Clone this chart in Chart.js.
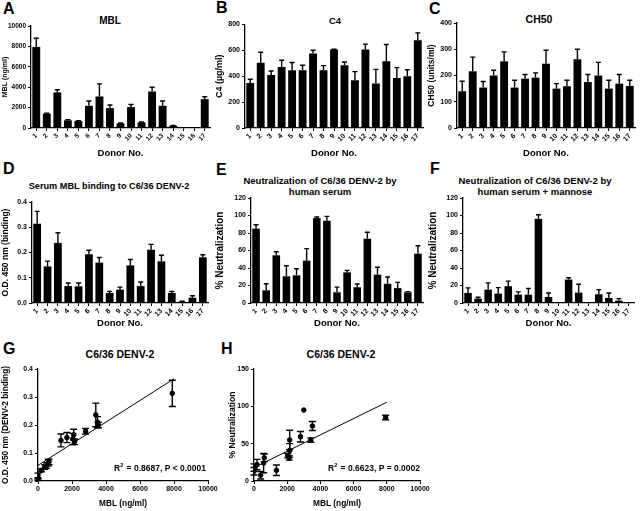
<!DOCTYPE html>
<html>
<head>
<meta charset="utf-8">
<script src="https://cdn.jsdelivr.net/npm/chart.js@4.4.1/dist/chart.umd.min.js"></script>
<style>
  body { margin: 0; background: #fff; width: 640px; height: 511px; position: relative; overflow: hidden;
         font-family: "Liberation Sans", Arial, sans-serif; color: #000; }
  canvas { position: absolute; }
  .letter { position: absolute; font-weight: bold; font-size: 16px; line-height: 16px; }
  .title { position: absolute; width: 240px; text-align: center; font-weight: bold; white-space: nowrap; }
</style>
</head>
<body>
<div class="letter" style="left:3px;top:1px">A</div>
<div class="letter" style="left:216px;top:0px">B</div>
<div class="letter" style="left:429px;top:1px">C</div>
<div class="letter" style="left:3px;top:161px">D</div>
<div class="letter" style="left:216px;top:162px">E</div>
<div class="letter" style="left:430px;top:161px">F</div>
<div class="letter" style="left:3px;top:341px">G</div>
<div class="letter" style="left:221px;top:341px">H</div>

<div class="title" style="left:-10px;top:16px;font-size:10px;line-height:10px">MBL</div>
<div class="title" style="left:215px;top:15.5px;font-size:9.5px;line-height:10px">C4</div>
<div class="title" style="left:419px;top:13.6px;font-size:10.5px;line-height:10.5px">CH50</div>
<div class="title" style="left:-11px;top:181.5px;font-size:9.2px;line-height:9.2px">Serum MBL binding to C6/36 DENV-2</div>
<div class="title" style="left:200px;top:175.3px;font-size:9.5px;line-height:11px">Neutralization of C6/36 DENV-2 by<br>human serum</div>
<div class="title" style="left:415px;top:175.3px;font-size:9.5px;line-height:11px">Neutralization of C6/36 DENV-2 by<br>human serum + mannose</div>
<div class="title" style="left:0px;top:348.6px;font-size:10.5px;line-height:10.5px">C6/36 DENV-2</div>
<div class="title" style="left:221px;top:349px;font-size:10.5px;line-height:10.5px">C6/36 DENV-2</div>

<script>
// ---- data ----
const donors = ['1','2','3','4','5','6','7','8','9','10','11','12','13','14','15','16','17'];

const mblMean  = [7950, 1400, 3490, 750, 680, 2180, 3090, 1950, 455, 2050, 550, 3580, 2180, 230, 0, 0, 2830];
const mblSd    = [850, 40, 260, 60, 40, 460, 1240, 300, 40, 260, 40, 420, 460, 20, 0, 0, 230];

const c4Mean   = [348, 505, 410, 472, 446, 446, 575, 446, 606, 485, 369, 606, 343, 516, 387, 400, 679];
const c4Sd     = [29, 80, 31, 52, 60, 39, 26, 36, 3, 25, 67, 42, 110, 129, 80, 50, 56];

const ch50Mean = [140, 216, 154, 200, 254, 154, 188, 192, 245, 150, 159, 262, 175, 200, 150, 169, 160];
const ch50Sd   = [38, 54, 23, 20, 36, 28, 16, 18, 51, 19, 23, 38, 29, 50, 32, 35, 22];

const bindMean = [0.314, 0.145, 0.238, 0.067, 0.066, 0.193, 0.160, 0.040, 0.053, 0.149, 0.067, 0.211, 0.165, 0.040, 0.005, 0.021, 0.181];
const bindSd   = [0.049, 0.021, 0.040, 0.012, 0.013, 0.016, 0.020, 0.006, 0.010, 0.023, 0.016, 0.021, 0.024, 0.006, 0.002, 0.008, 0.010];

const neutMean = [85, 14.5, 54.5, 30.5, 31.6, 48.4, 97, 94, 12.2, 35, 18, 73.5, 32.4, 22, 17, 12.2, 56.4];
const neutSd   = [4.5, 7.5, 4, 12, 7.5, 13.7, 1.3, 5, 6, 2.3, 3.7, 7.3, 8.4, 7.7, 6.6, 0.8, 9];

const mannMean = [11.5, 5, 15.3, 10.7, 19.2, 9.6, 9.6, 96.2, 6.9, 0, 26.8, 11.9, 0, 10, 5.8, 2.7, 0];
const mannSd   = [5.8, 1.5, 7.7, 6.9, 5.8, 3.1, 6.9, 4.6, 4.6, 0, 2, 9.6, 0, 5.3, 5.7, 2.3, 0];

// G: MBL vs binding
const gMbl = [7900, 3400, 3500, 3550, 2800, 2100, 2050, 2150, 1700, 1350, 650, 600, 500, 400, 200, 0, 0];
const gOd  = [0.313, 0.236, 0.21, 0.20, 0.178, 0.165, 0.15, 0.14, 0.155, 0.145, 0.068, 0.065, 0.055, 0.05, 0.038, 0.02, 0.005];
const gSd  = [0.047, 0.042, 0.02, 0.01, 0.01, 0.02, 0.02, 0.01, 0.018, 0.023, 0.01, 0.012, 0.01, 0.008, 0.005, 0.008, 0.003];
const gFitX = [0, 8000];
const gFitY = [0.056, 0.365];

// H: MBL vs neutralization
const hMbl  = [7930, 3000, 3520, 3420, 2800, 2150, 2150, 2030, 2120, 1350, 620, 580, 180, 400, 0, 0];
const hNeut = [85, 95, 73.6, 54.8, 59.3, 55, 41, 34, 31, 14.4, 31, 24, 22, 7.7, 18, 13];
const hSd   = [3, 0, 6, 3, 7, 13, 9, 3, 3, 7, 5, 13, 7, 5, 5, 5];
const hFitX = [0, 8000];
const hFitY = [18, 105.5];

// ---- helpers ----
const FONT = '"Liberation Sans", Arial, sans-serif';
const bold = (size) => ({ family: FONT, size: size, weight: 'bold' });

function addCanvas(box) {
  const c = document.createElement('canvas');
  c.width = box[2]; c.height = box[3];
  c.style.left = box[0] + 'px'; c.style.top = box[1] + 'px';
  c.style.width = box[2] + 'px'; c.style.height = box[3] + 'px';
  document.body.appendChild(c);
  return c;
}

// error bars: dataset.errors, bars get the upper whisker only, points both sides
const errorBars = {
  id: 'errorBars',
  afterDatasetsDraw(chart) {
    const ctx = chart.ctx;
    const ys = chart.scales.y;
    chart.data.datasets.forEach((ds, i) => {
      if (!ds.errors) return;
      const meta = chart.getDatasetMeta(i);
      meta.data.forEach((el, j) => {
        const e = ds.errors[j];
        if (!e) return;
        const raw = ds.data[j];
        const v = typeof raw === 'object' ? raw.y : raw;
        const yTop = ys.getPixelForValue(v + e);
        const both = !!ds.bothSides;
        const yBot = both ? ys.getPixelForValue(v - e) : el.y;
        const half = both ? 3.5 : el.width * 0.32;
        ctx.save();
        ctx.strokeStyle = '#000';
        ctx.lineWidth = 1.4;
        ctx.beginPath();
        ctx.moveTo(el.x, yBot); ctx.lineTo(el.x, yTop);
        ctx.moveTo(el.x - half, yTop); ctx.lineTo(el.x + half, yTop);
        if (both) { ctx.moveTo(el.x - half, yBot); ctx.lineTo(el.x + half, yBot); }
        ctx.stroke();
        ctx.restore();
      });
    });
  }
};

function axisStyle() {
  return {
    grid: { display: true, drawOnChartArea: false, drawTicks: true, tickLength: 3, color: '#000', lineWidth: 1 },
    border: { display: true, color: '#000', width: 1.3 }
  };
}

function makeBar(cfg) {
  const box = cfg.box, area = cfg.area;
  const cv = addCanvas(box);
  const xs = axisStyle(), ysA = axisStyle();
  xs.grid.offset = false;
  return new Chart(cv, {
    type: 'bar',
    data: {
      labels: donors,
      datasets: [{
        data: cfg.values, errors: cfg.errors,
        backgroundColor: '#000', borderWidth: 0,
        barPercentage: 0.75, categoryPercentage: 1
      }]
    },
    options: {
      responsive: false, animation: false, devicePixelRatio: 1,
      layout: { padding: { top: area[1] - box[1], right: box[0] + box[2] - area[2], left: 0, bottom: 0 } },
      plugins: { legend: { display: false }, tooltip: { enabled: false } },
      scales: {
        x: Object.assign(xs, {
          offset: true,
          ticks: { color: '#000', font: bold(cfg.tickSize || 7), minRotation: 45, maxRotation: 45, autoSkip: false, padding: 1 },
          title: { display: true, text: 'Donor No.', color: '#000', font: bold(9.5), padding: { top: 0, bottom: 1 } },
          afterFit: (s) => { s.height = box[1] + box[3] - area[3]; }
        }),
        y: Object.assign(ysA, {
          min: 0, max: cfg.max,
          ticks: { color: '#000', font: bold(cfg.tickSize || 7), stepSize: cfg.step, padding: 2,
                   callback: (v) => cfg.dec ? v.toFixed(cfg.dec) : String(v) },
          title: { display: true, text: cfg.yTitle, color: '#000', font: bold(cfg.yTitleSize), padding: { top: 1, bottom: 0 } },
          afterFit: (s) => { s.width = area[0] - box[0]; }
        })
      }
    },
    plugins: [errorBars]
  });
}

function makeScatter(cfg) {
  const box = cfg.box, area = cfg.area;
  const cv = addCanvas(box);
  const pts = cfg.xs.map((x, i) => ({ x: x, y: cfg.ys[i] }));
  const fit = cfg.fitX.map((x, i) => ({ x: x, y: cfg.fitY[i] }));
  return new Chart(cv, {
    type: 'scatter',
    data: {
      datasets: [
        { data: fit, showLine: true, borderColor: '#000', borderWidth: 1, pointRadius: 0 },
        { data: pts, errors: cfg.errors, bothSides: true, backgroundColor: '#000', borderColor: '#000', pointRadius: 2.3 }
      ]
    },
    options: {
      responsive: false, animation: false, devicePixelRatio: 1,
      layout: { padding: { top: area[1] - box[1], right: box[0] + box[2] - area[2], left: 0, bottom: 0 } },
      plugins: { legend: { display: false }, tooltip: { enabled: false } },
      scales: {
        x: Object.assign(axisStyle(), {
          type: 'linear', min: 0, max: 10000,
          ticks: { color: '#000', font: bold(7), stepSize: 2000, padding: 1, maxRotation: 0, callback: (v) => String(v) },
          title: { display: true, text: 'MBL (ng/ml)', color: '#000', font: bold(8.3), padding: { top: 0, bottom: 2.5 } },
          afterFit: (s) => { s.height = box[1] + box[3] - area[3]; }
        }),
        y: Object.assign(axisStyle(), {
          min: 0, max: cfg.max,
          ticks: { color: '#000', font: bold(7), stepSize: cfg.step, padding: 2,
                   callback: (v) => cfg.dec ? v.toFixed(cfg.dec) : String(v) },
          title: { display: true, text: cfg.yTitle, color: '#000', font: bold(cfg.yTitleSize), padding: { top: 1, bottom: 0 } },
          afterFit: (s) => { s.width = area[0] - box[0]; }
        })
      }
    },
    plugins: [errorBars, {
      id: 'stat',
      afterDraw(chart) {
        const ctx = chart.ctx, a = chart.chartArea;
        ctx.save();
        ctx.fillStyle = '#000';
        ctx.textBaseline = 'alphabetic';
        ctx.textAlign = 'right';
        ctx.font = 'bold 8.5px ' + FONT;
        const main = cfg.stat;
        const w = ctx.measureText(main).width;
        const xr = a.right + cfg.statDx, yb = a.bottom - cfg.statDy;
        ctx.fillText(main, xr, yb);
        const rw = ctx.measureText('R').width;
        ctx.textAlign = 'left';
        ctx.fillText('R', xr - w - rw - 4, yb);
        ctx.font = 'bold 5.5px ' + FONT;
        ctx.fillText('2', xr - w - 4, yb - 4);
        ctx.restore();
      }
    }]
  });
}

// ---- panels ----
makeBar({ box: [0, 0, 213, 160],   area: [31, 26, 210, 128],   values: mblMean,  errors: mblSd,  max: 10000, step: 2000, yTitle: 'MBL (ng/ml)', yTitleSize: 7, tickSize: 6.5 });
makeBar({ box: [213, 0, 213, 160], area: [245, 24.5, 423, 128], values: c4Mean,   errors: c4Sd,   max: 800,   step: 200,  yTitle: 'C4 (\u00b5g/ml)', yTitleSize: 9 });
makeBar({ box: [426, 0, 214, 160], area: [457, 23, 635, 128],  values: ch50Mean, errors: ch50Sd, max: 400,   step: 100,  yTitle: 'CH50 (units/ml)', yTitleSize: 8.5 });
makeBar({ box: [0, 160, 213, 170], area: [32, 202, 208, 303],  values: bindMean, errors: bindSd, max: 0.4,   step: 0.1,  dec: 1, yTitle: 'O.D. 450 nm (binding)', yTitleSize: 8.5 });
makeBar({ box: [213, 160, 213, 170], area: [251, 198, 423, 303], values: neutMean, errors: neutSd, max: 120, step: 20, yTitle: '% Neutralization', yTitleSize: 10 });
makeBar({ box: [426, 160, 214, 170], area: [463, 198, 634, 303], values: mannMean, errors: mannSd, max: 120, step: 20, yTitle: '% Neutralization', yTitleSize: 10 });

makeScatter({ box: [0, 330, 226, 181], area: [38, 369, 208, 481], xs: gMbl, ys: gOd, errors: gSd, fitX: gFitX, fitY: gFitY,
  max: 0.4, step: 0.1, dec: 1, yTitle: 'O.D. 450 nm (DENV-2 binding)', yTitleSize: 8.3,
  stat: ' = 0.8687, P < 0.0001', statDx: -2, statDy: 10 });
makeScatter({ box: [226, 330, 214, 181], area: [254, 369, 420, 481], xs: hMbl, ys: hNeut, errors: hSd, fitX: hFitX, fitY: hFitY,
  max: 150, step: 50, yTitle: '% Neutralization', yTitleSize: 8.6,
  stat: ' = 0.6623, P = 0.0002', statDx: 0, statDy: 10 });
</script>
</body>
</html>
